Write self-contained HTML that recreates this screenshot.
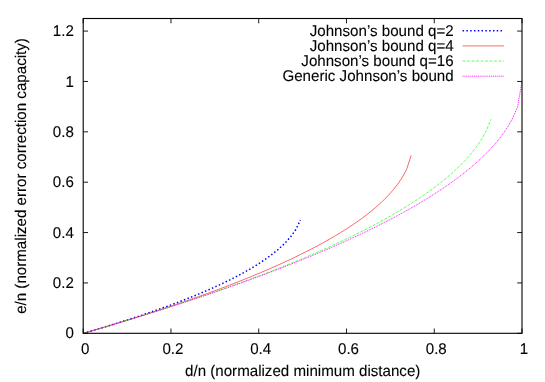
<!DOCTYPE html>
<html><head><meta charset="utf-8"><title>Johnson bound plot</title>
<style>html,body{margin:0;padding:0;background:#fff;overflow:hidden}svg{display:block;will-change:transform}text{font-family:"Liberation Sans",sans-serif;font-size:15.13px;fill:#000;text-rendering:geometricPrecision;stroke:#000;stroke-width:0.1px}</style></head><body>
<svg width="545" height="382" viewBox="0 0 545 382">
<rect width="545" height="382" fill="#fff"/>
<path id="ticks" d="M83.20,333.30 v-4.8 M83.20,18.50 v4.8 M170.96,333.30 v-4.8 M170.96,18.50 v4.8 M258.72,333.30 v-4.8 M258.72,18.50 v4.8 M346.48,333.30 v-4.8 M346.48,18.50 v4.8 M434.24,333.30 v-4.8 M434.24,18.50 v4.8 M522.00,333.30 v-4.8 M522.00,18.50 v4.8 M83.20,333.30 h4.8 M522.00,333.30 h-4.8 M83.20,282.93 h4.8 M522.00,282.93 h-4.8 M83.20,232.56 h4.8 M522.00,232.56 h-4.8 M83.20,182.20 h4.8 M522.00,182.20 h-4.8 M83.20,131.83 h4.8 M522.00,131.83 h-4.8 M83.20,81.46 h4.8 M522.00,81.46 h-4.8 M83.20,31.09 h4.8 M522.00,31.09 h-4.8" stroke="#000" stroke-width="0.9" fill="none"/>
<path id="c-blue" d="M83.20,333.30 L87.63,332.02 L92.06,330.73 L96.50,329.42 L100.93,328.11 L105.36,326.77 L109.79,325.42 L114.23,324.06 L118.66,322.68 L123.09,321.28 L127.52,319.86 L131.96,318.43 L136.39,316.98 L140.82,315.51 L145.25,314.02 L149.68,312.50 L154.12,310.97 L158.55,309.41 L162.98,307.83 L167.41,306.22 L171.85,304.59 L176.28,302.93 L180.71,301.24 L185.14,299.51 L189.58,297.76 L194.01,295.97 L198.44,294.14 L202.87,292.28 L207.31,290.37 L211.74,288.41 L216.17,286.41 L220.60,284.36 L225.03,282.25 L229.47,280.08 L233.90,277.84 L238.33,275.53 L242.76,273.14 L247.20,270.66 L251.63,268.07 L256.06,265.37 L260.49,262.54 L264.93,259.56 L269.36,256.39 L273.79,253.01 L278.22,249.35 L282.65,245.35 L287.09,240.86 L291.52,235.68 L295.95,229.30 L300.38,220.04" stroke="#0000ff" stroke-width="1.5" stroke-dasharray="1.5 2.29" fill="none"/>
<path id="c-red" d="M83.20,333.30 L87.63,332.02 L92.06,330.74 L96.50,329.44 L100.93,328.14 L105.36,326.83 L109.79,325.51 L114.23,324.18 L118.66,322.83 L123.09,321.48 L127.52,320.12 L131.96,318.75 L136.39,317.36 L140.82,315.97 L145.25,314.56 L149.68,313.15 L154.12,311.72 L158.55,310.27 L162.98,308.82 L167.41,307.35 L171.85,305.87 L176.28,304.37 L180.71,302.87 L185.14,301.34 L189.58,299.80 L194.01,298.25 L198.44,296.68 L202.87,295.09 L207.31,293.49 L211.74,291.87 L216.17,290.23 L220.60,288.58 L225.03,286.90 L229.47,285.20 L233.90,283.49 L238.33,281.75 L242.76,279.99 L247.20,278.20 L251.63,276.40 L256.06,274.56 L260.49,272.70 L264.93,270.82 L269.36,268.90 L273.79,266.96 L278.22,264.98 L282.65,262.97 L287.09,260.93 L291.52,258.85 L295.95,256.73 L300.38,254.57 L304.82,252.36 L309.25,250.11 L313.68,247.82 L318.11,245.47 L322.55,243.06 L326.98,240.59 L331.41,238.06 L335.84,235.46 L340.27,232.78 L344.71,230.02 L349.14,227.17 L353.57,224.21 L358.00,221.14 L362.44,217.94 L366.87,214.60 L371.30,211.09 L375.73,207.38 L380.17,203.44 L384.60,199.22 L389.03,194.64 L393.46,189.61 L397.89,183.94 L402.33,177.30 L406.76,168.93 L411.19,155.38" stroke="#ff0000" stroke-width="0.6" fill="none"/>
<path id="c-green" d="M83.20,333.30 L87.63,332.02 L92.06,330.74 L96.50,329.45 L100.93,328.16 L105.36,326.85 L109.79,325.54 L114.23,324.22 L118.66,322.90 L123.09,321.56 L127.52,320.22 L131.96,318.87 L136.39,317.51 L140.82,316.14 L145.25,314.77 L149.68,313.38 L154.12,311.99 L158.55,310.58 L162.98,309.17 L167.41,307.75 L171.85,306.32 L176.28,304.88 L180.71,303.43 L185.14,301.97 L189.58,300.49 L194.01,299.01 L198.44,297.52 L202.87,296.01 L207.31,294.50 L211.74,292.97 L216.17,291.43 L220.60,289.88 L225.03,288.31 L229.47,286.73 L233.90,285.14 L238.33,283.54 L242.76,281.92 L247.20,280.29 L251.63,278.64 L256.06,276.98 L260.49,275.30 L264.93,273.60 L269.36,271.89 L273.79,270.17 L278.22,268.42 L282.65,266.66 L287.09,264.88 L291.52,263.08 L295.95,261.26 L300.38,259.42 L304.82,257.55 L309.25,255.67 L313.68,253.76 L318.11,251.83 L322.55,249.88 L326.98,247.90 L331.41,245.89 L335.84,243.86 L340.27,241.80 L344.71,239.71 L349.14,237.58 L353.57,235.43 L358.00,233.24 L362.44,231.01 L366.87,228.75 L371.30,226.44 L375.73,224.10 L380.17,221.71 L384.60,219.28 L389.03,216.79 L393.46,214.25 L397.89,211.66 L402.33,209.00 L406.76,206.28 L411.19,203.50 L415.62,200.63 L420.06,197.69 L424.49,194.65 L428.92,191.52 L433.35,188.28 L437.79,184.92 L442.22,181.43 L446.65,177.79 L451.08,173.97 L455.52,169.95 L459.95,165.70 L464.38,161.17 L468.81,156.28 L473.24,150.96 L477.68,145.05 L482.11,138.30 L486.54,130.19 L490.97,119.29" stroke="#00ff00" stroke-width="0.62" stroke-dasharray="3 1.48" fill="none"/>
<path id="c-mag" d="M83.20,333.30 L87.63,332.02 L92.06,330.74 L96.50,329.45 L100.93,328.16 L105.36,326.86 L109.79,325.55 L114.23,324.23 L118.66,322.91 L123.09,321.58 L127.52,320.24 L131.96,318.90 L136.39,317.54 L140.82,316.18 L145.25,314.81 L149.68,313.44 L154.12,312.05 L158.55,310.66 L162.98,309.26 L167.41,307.85 L171.85,306.43 L176.28,305.00 L180.71,303.56 L185.14,302.12 L189.58,300.66 L194.01,299.19 L198.44,297.72 L202.87,296.23 L207.31,294.73 L211.74,293.23 L216.17,291.71 L220.60,290.18 L225.03,288.64 L229.47,287.09 L233.90,285.52 L238.33,283.95 L242.76,282.36 L247.20,280.76 L251.63,279.14 L256.06,277.52 L260.49,275.88 L264.93,274.22 L269.36,272.55 L273.79,270.87 L278.22,269.17 L282.65,267.46 L287.09,265.73 L291.52,263.98 L295.95,262.22 L300.38,260.43 L304.82,258.64 L309.25,256.82 L313.68,254.98 L318.11,253.13 L322.55,251.25 L326.98,249.35 L331.41,247.43 L335.84,245.49 L340.27,243.53 L344.71,241.54 L349.14,239.53 L353.57,237.49 L358.00,235.42 L362.44,233.33 L366.87,231.20 L371.30,229.05 L375.73,226.86 L380.17,224.64 L384.60,222.38 L389.03,220.09 L393.46,217.76 L397.89,215.39 L402.33,212.98 L406.76,210.52 L411.19,208.01 L415.62,205.46 L420.06,202.85 L424.49,200.18 L428.92,197.45 L433.35,194.65 L437.79,191.79 L442.22,188.84 L446.65,185.82 L451.08,182.70 L455.52,179.49 L459.95,176.16 L464.38,172.72 L468.81,169.14 L473.24,165.41 L477.68,161.50 L482.11,157.39 L486.54,153.05 L490.97,148.43 L495.41,143.46 L499.84,138.06 L504.27,132.08 L508.70,125.30 L513.14,117.25 L517.57,106.77 L522.00,81.46" stroke="#ff00ff" stroke-width="0.92" stroke-dasharray="1.0 0.9" fill="none"/>
<path d="M462.60,30.65 H503.90" stroke="#0000ff" stroke-width="1.5" stroke-dasharray="1.5 2.29" fill="none"/>
<path d="M462.60,45.90 H503.90" stroke="#ff0000" stroke-width="0.6" fill="none"/>
<path d="M462.60,60.99 H503.90" stroke="#00ff00" stroke-width="0.62" stroke-dasharray="3 1.48" fill="none"/>
<path d="M462.60,76.20 H503.90" stroke="#ff00ff" stroke-width="0.92" stroke-dasharray="1.0 0.9" fill="none"/>
<text transform="translate(453.70,35.50) scale(1,1.025)" text-anchor="end">Johnson’s bound q=2</text>
<text transform="translate(453.70,50.70) scale(1,1.025)" text-anchor="end">Johnson’s bound q=4</text>
<text transform="translate(453.70,66.00) scale(1,1.025)" text-anchor="end">Johnson’s bound q=16</text>
<text transform="translate(453.70,81.30) scale(1,1.025)" text-anchor="end">Generic Johnson’s bound</text>
<rect id="box" x="83.20" y="18.50" width="438.80" height="314.80" fill="none" stroke="#000" stroke-width="1.1"/>
<text transform="translate(73.90,338.45) scale(1,1.025)" text-anchor="end">0</text>
<text transform="translate(73.90,288.08) scale(1,1.025)" text-anchor="end">0.2</text>
<text transform="translate(73.90,237.71) scale(1,1.025)" text-anchor="end">0.4</text>
<text transform="translate(73.90,187.35) scale(1,1.025)" text-anchor="end">0.6</text>
<text transform="translate(73.90,136.98) scale(1,1.025)" text-anchor="end">0.8</text>
<text transform="translate(73.90,86.61) scale(1,1.025)" text-anchor="end">1</text>
<text transform="translate(73.90,36.24) scale(1,1.025)" text-anchor="end">1.2</text>
<text transform="translate(85.20,353.80) scale(1,1.025)" text-anchor="middle">0</text>
<text transform="translate(172.96,353.80) scale(1,1.025)" text-anchor="middle">0.2</text>
<text transform="translate(260.72,353.80) scale(1,1.025)" text-anchor="middle">0.4</text>
<text transform="translate(348.48,353.80) scale(1,1.025)" text-anchor="middle">0.6</text>
<text transform="translate(436.24,353.80) scale(1,1.025)" text-anchor="middle">0.8</text>
<text transform="translate(524.00,353.80) scale(1,1.025)" text-anchor="middle">1</text>
<text transform="translate(302.70,376.10) scale(1,1.025)" text-anchor="middle">d/n (normalized minimum distance)</text>
<text transform="translate(25.50,176.00) rotate(-90) scale(1,1.025)" text-anchor="middle">e/n (normalized error correction capacity)</text>
</svg></body></html>
